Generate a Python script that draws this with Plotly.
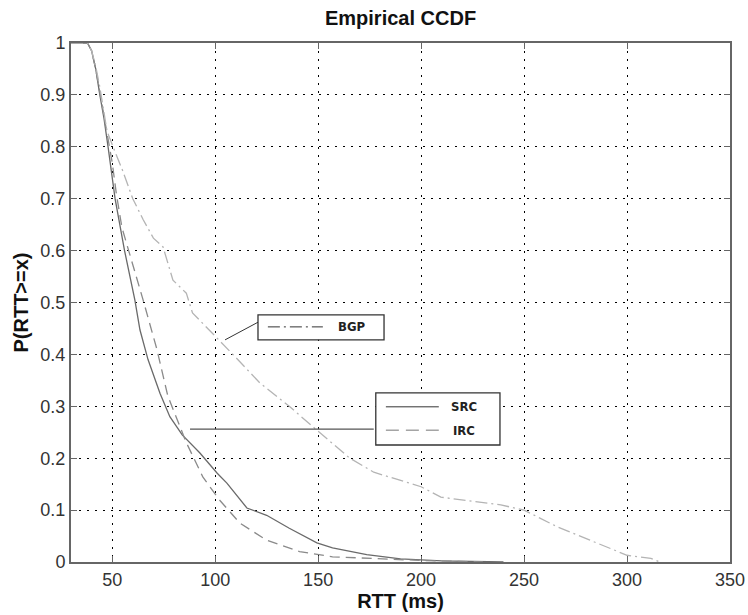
import plotly.graph_objects as go

# ---- data ----
src_x = [30, 38, 40, 42, 44, 46, 48, 51.4, 56, 61, 63.5, 67.4, 73.2, 78, 84, 92.6, 101, 105.7,
         115.4, 125, 136, 149.4, 157, 173.6, 190, 210, 240]
src_y = [1, 1, 0.985, 0.95, 0.90, 0.855, 0.80, 0.70, 0.60, 0.505, 0.447, 0.39, 0.325, 0.28, 0.245,
         0.21, 0.171, 0.152, 0.104, 0.09, 0.065, 0.037, 0.027, 0.014, 0.006, 0.002, 0]

irc_x = [30, 38, 40, 42, 44, 46, 48, 50, 52, 54.7, 58, 61, 65, 71.7, 77, 86, 94, 102, 112, 125,
         141, 157, 174, 200, 230]
irc_y = [1, 1, 0.985, 0.95, 0.905, 0.86, 0.82, 0.77, 0.71, 0.645, 0.60, 0.56, 0.505, 0.41, 0.32,
         0.23, 0.164, 0.12, 0.075, 0.042, 0.02, 0.01, 0.007, 0.003, 0]

bgp_x = [30, 38, 40, 42, 44, 47.5, 51.4, 55, 60, 65, 70, 74.7, 79.5, 86, 89, 99, 108.6, 121.7,
         136, 149.4, 165.4, 177, 200, 209.6, 225.6, 238.7, 250, 266, 282, 300, 311.6, 316]
bgp_y = [1, 1, 0.985, 0.955, 0.915, 0.83, 0.79, 0.755, 0.70, 0.66, 0.624, 0.607, 0.543, 0.518,
         0.48, 0.44, 0.40, 0.345, 0.30, 0.254, 0.20, 0.173, 0.145, 0.125, 0.116, 0.11, 0.10,
         0.068, 0.042, 0.013, 0.007, 0]

x_ticks = [50, 100, 150, 200, 250, 300, 350]
y_ticks = [0, 0.1, 0.2, 0.3, 0.4, 0.5, 0.6, 0.7, 0.8, 0.9, 1]
y_tick_labels = ["0", "0.1", "0.2", "0.3", "0.4", "0.5", "0.6", "0.7", "0.8", "0.9", "1"]

SRC_C = "#6a6a6a"
IRC_C = "#8a8a8a"
BGP_C = "#b4b4b4"
BOX_C = "#333333"
FRAME_C = "#666666"

fig = go.Figure()
fig.add_trace(go.Scatter(x=src_x, y=src_y, mode="lines", name="SRC",
                         line=dict(color=SRC_C, width=1.3)))
fig.add_trace(go.Scatter(x=irc_x, y=irc_y, mode="lines", name="IRC",
                         line=dict(color=IRC_C, width=1.3, dash="10px,6px")))
fig.add_trace(go.Scatter(x=bgp_x, y=bgp_y, mode="lines", name="BGP",
                         line=dict(color=BGP_C, width=1.3, dash="12px,4px,2px,4px")))

shapes = []
# BGP label box + leader
shapes.append(dict(type="line", xref="x", yref="y", x0=104.8, y0=0.428, x1=120.8, y1=0.462,
                   line=dict(color=BOX_C, width=1)))
shapes.append(dict(type="rect", xref="x", yref="y", x0=120.8, y0=0.428, x1=182, y1=0.476,
                   line=dict(color=BOX_C, width=1.3), fillcolor="white", layer="above"))
shapes.append(dict(type="line", xref="x", yref="y", x0=125.6, y0=0.453, x1=152.3, y1=0.453,
                   line=dict(color=BOX_C, width=1, dash="12px,4px,2px,4px")))
# SRC/IRC label box + leader
shapes.append(dict(type="line", xref="x", yref="y", x0=87.8, y0=0.256, x1=177, y1=0.256,
                   line=dict(color="#555555", width=1.3)))
shapes.append(dict(type="rect", xref="x", yref="y", x0=178, y0=0.2254, x1=238.3, y1=0.326,
                   line=dict(color=BOX_C, width=1.3), fillcolor="white", layer="above"))
shapes.append(dict(type="line", xref="x", yref="y", x0=182.9, y0=0.299, x1=208.6, y1=0.299,
                   line=dict(color=BOX_C, width=1)))
shapes.append(dict(type="line", xref="x", yref="y", x0=182.9, y0=0.254, x1=208.6, y1=0.254,
                   line=dict(color="#777777", width=1, dash="13px,7px")))

lab_font = dict(family="DejaVu Sans Condensed, Liberation Sans Narrow, sans-serif", size=13,
                color="#222222")
annotations = [
    dict(x=166.4, y=0.453, xref="x", yref="y", text="<b>BGP</b>", showarrow=False, font=lab_font),
    dict(x=220.8, y=0.299, xref="x", yref="y", text="<b>SRC</b>", showarrow=False, font=lab_font),
    dict(x=220.8, y=0.254, xref="x", yref="y", text="<b>IRC</b>", showarrow=False, font=lab_font),
]

fig.update_layout(
    width=748, height=615,
    margin=dict(l=71, r=18, t=43, b=53, autoexpand=False),
    paper_bgcolor="white", plot_bgcolor="white",
    showlegend=False,
    title=dict(text="<b>Empirical CCDF</b>", x=0.5355, xanchor="center", y=0.971, yanchor="middle",
               font=dict(family="Liberation Sans, Arial, sans-serif", size=20, color="#111111")),
    font=dict(family="Liberation Sans, Arial, sans-serif", size=18, color="#333333"),
    shapes=shapes,
    annotations=annotations,
)
axis_common = dict(ticks="inside", ticklen=6, tickcolor=FRAME_C, tickwidth=1,
                   showline=True, linecolor=FRAME_C, linewidth=2, mirror="ticks",
                   showgrid=True, gridcolor="#000000", gridwidth=1, griddash="2px,6px",
                   zeroline=False, automargin=False, tickfont=dict(size=18, color="#333333"))
fig.update_xaxes(range=[30, 350], tickvals=x_ticks,
                 title=dict(text="<b>RTT (ms)</b>", standoff=2,
                            font=dict(size=20, color="#111111")), **axis_common)
fig.update_yaxes(range=[0, 1], tickvals=y_ticks, ticktext=y_tick_labels,
                 title=dict(text="<b>P(RTT>=x)</b>", standoff=6,
                            font=dict(size=20, color="#111111")), **axis_common)

fig.write_html("out.html", config={"displayModeBar": False},
               post_script="document.body.style.margin='0';document.body.style.overflow='hidden';")
